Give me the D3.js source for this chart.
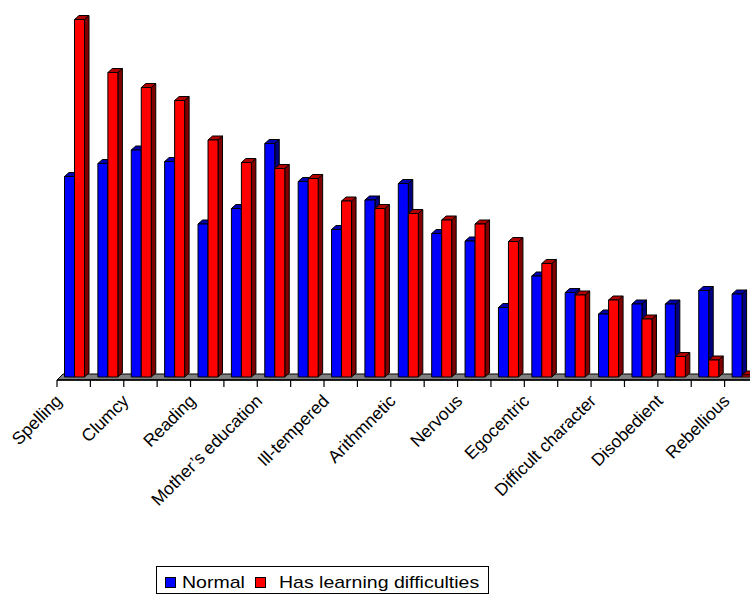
<!DOCTYPE html>
<html>
<head>
<meta charset="utf-8">
<script src="https://cdn.jsdelivr.net/npm/d3@7"></script>
<style>
  html, body { margin: 0; padding: 0; background: #fff; }
  svg { display: block; font-family: "Liberation Sans", Arial, sans-serif; }
</style>
</head>
<body>
<svg id="chart" width="750" height="594"></svg>
<script>
// Category labels (only every other category carries a printed label)
const categories = [
  "Spelling", "", "Clumcy", "", "Reading", "", "Mother’s education", "",
  "Ill-tempered", "", "Arithmnetic", "", "Nervous", "", "Egocentric", "",
  "Difficult character", "", "Disobedient", "", "Rebellious"
];

// Percent of children in each group showing the trait
const normal = [40.1, 42.7, 45.4, 43.1, 30.6, 33.7, 46.7, 39.1, 29.5, 35.4, 38.7,
                28.7, 27.2, 13.9, 20.2, 16.9, 12.6, 14.6, 14.6, 17.3, 16.6];
const learning = [71.5, 60.9, 57.9, 55.3, 47.4, 42.9, 41.7, 39.7, 35.2, 33.7, 32.7,
                  31.4, 30.6, 27.1, 22.7, 16.4, 15.4, 11.6, 4.1, 3.4, 0.4];

const seriesNames = ["Normal", "Has learning difficulties"];
const seriesColors = [
  { front: "#0000ff", top: "#0000b0", side: "#000080" },
  { front: "#ff0000", top: "#b00000", side: "#800000" }
];

const svg = d3.select("#chart");

// Layout of the 3D plot floor
const floorLeft = 57, step = 33.38;
const floorFront = 380, floorBack = 374, floorShift = 6;
const baseY = 377;
const depthX = 4.5, depthY = 4;
const barW = 10, barOffset = 7.5;

const idx = d3.range(categories.length);
const x = d3.scaleBand()
  .domain(idx)
  .range([floorLeft, floorLeft + step * categories.length])
  .paddingInner(0).paddingOuter(0);

const y = d3.scaleLinear().domain([0, 75]).range([baseY, baseY - 375]);

// Floor of the plot
const floorRight = x.range()[1];
svg.append("polygon")
  .attr("points", [
    [floorLeft, floorFront], [floorRight, floorFront],
    [floorRight + floorShift, floorBack], [floorLeft + floorShift, floorBack]
  ].map(p => p.join(",")).join(" "))
  .attr("fill", "#808080")
  .attr("stroke", "#000")
  .attr("stroke-width", 1);

svg.append("line")
  .attr("x1", floorLeft).attr("x2", floorRight)
  .attr("y1", floorFront).attr("y2", floorFront)
  .attr("stroke", "#000").attr("stroke-width", 1.5);

// Category boundary ticks
svg.append("g").selectAll("line")
  .data(d3.range(categories.length + 1))
  .join("line")
  .attr("x1", i => floorLeft + i * x.step())
  .attr("x2", i => floorLeft + i * x.step())
  .attr("y1", floorFront)
  .attr("y2", floorFront + 7)
  .attr("stroke", "#000")
  .attr("stroke-width", 1.2);

// Bars drawn as front, top and side faces
const bars = [];
idx.forEach(i => {
  [normal[i], learning[i]].forEach((v, s) => {
    bars.push({ i, s, v });
  });
});

const barG = svg.append("g");
bars.forEach(b => {
  const c = seriesColors[b.s];
  const x0 = x(b.i) + barOffset + b.s * barW;
  const x1 = x0 + barW;
  const yt = y(b.v);
  const g = barG.append("g").attr("stroke", "#000").attr("stroke-width", 1).attr("stroke-linejoin", "round");
  g.append("polygon")
    .attr("points", [[x1, yt], [x1 + depthX, yt - depthY], [x1 + depthX, baseY - depthY], [x1, baseY]]
      .map(p => p.join(",")).join(" "))
    .attr("fill", c.side);
  g.append("polygon")
    .attr("points", [[x0, yt], [x1, yt], [x1 + depthX, yt - depthY], [x0 + depthX, yt - depthY]]
      .map(p => p.join(",")).join(" "))
    .attr("fill", c.top);
  g.append("rect")
    .attr("x", x0).attr("y", yt)
    .attr("width", barW).attr("height", baseY - yt)
    .attr("fill", c.front);
});

// Rotated category labels
svg.append("g").selectAll("text")
  .data(idx.filter(i => categories[i] !== ""))
  .join("text")
  .attr("transform", i => `translate(${x(i) + 6},402) rotate(-45)`)
  .attr("text-anchor", "end")
  .attr("font-size", 17.5)
  .attr("fill", "#000")
  .text(i => categories[i]);

// Legend
const legend = svg.append("g");
legend.append("rect")
  .attr("x", 156.5).attr("y", 566.5)
  .attr("width", 332).attr("height", 27)
  .attr("fill", "#fff").attr("stroke", "#000").attr("stroke-width", 1);

const legendItems = [
  { sq: 165, tx: 182 },
  { sq: 255, tx: 279 }
];
legendItems.forEach((p, s) => {
  legend.append("rect")
    .attr("x", p.sq + 0.5).attr("y", 577.5)
    .attr("width", 10).attr("height", 10)
    .attr("fill", seriesColors[s].front)
    .attr("stroke", "#000");
  legend.append("text")
    .attr("x", p.tx).attr("y", 588)
    .attr("font-size", 16)
    .attr("transform", `translate(${p.tx},0) scale(1.22,1) translate(${-p.tx},0)`)
    .attr("fill", "#000")
    .text(seriesNames[s]);
});
</script>
</body>
</html>
